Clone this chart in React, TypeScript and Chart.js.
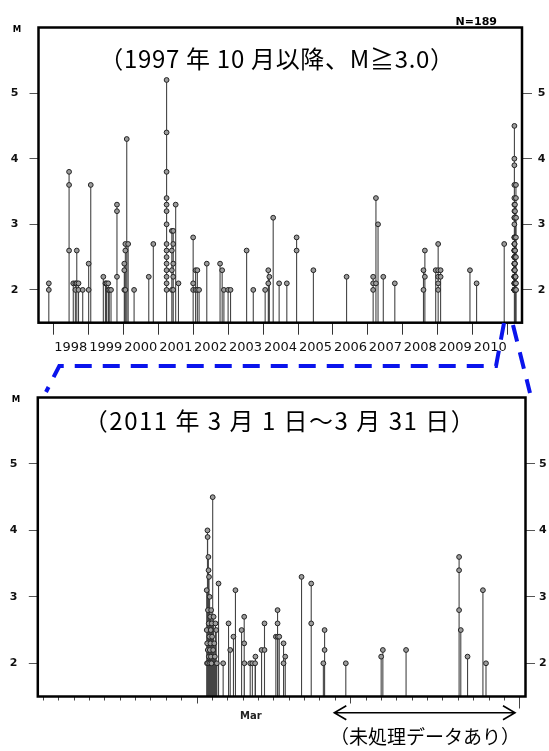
import React, { useEffect, useRef } from 'react';
import { Chart, registerables } from 'chart.js';
Chart.register(...registerables);

// ---------------- data ----------------
const M_MIN = 1.5;
const M_MAX = 6.0;
const magTicks = [2, 3, 4, 5];

const yearTicks = [1998, 1999, 2000, 2001, 2002, 2003, 2004, 2005, 2006, 2007, 2008, 2009, 2010, 2011];
const yearLabels = ['1998', '1999', '2000', '2001', '2002', '2003', '2004', '2005', '2006', '2007', '2008', '2009', '2010'];
const topRange = [1997.575, 2011.409];

// events before 2011 (decimal year, magnitudes of the events at that time)
const topGroupTimes = [
  1997.87, 1998.45, 1998.57, 1998.63, 1998.67, 1998.72, 1998.84, 1999.01, 1999.07, 1999.43,
  1999.49, 1999.52, 1999.57, 1999.60, 1999.65, 1999.82, 2000.03, 2000.06, 2000.10, 2000.14,
  2000.31, 2000.73, 2000.86, 2001.24, 2001.39, 2001.43, 2001.50, 2001.58, 2002.00, 2002.07,
  2002.12, 2002.17, 2002.39, 2002.77, 2002.83, 2002.88, 2003.00, 2003.07, 2003.53, 2003.72,
  2004.06, 2004.15, 2004.18, 2004.29, 2004.46, 2004.68, 2004.96, 2005.44, 2006.39, 2007.15,
  2007.23, 2007.29, 2007.44, 2007.77, 2008.59, 2008.63, 2008.94, 2009.01, 2009.08, 2009.92,
  2010.11, 2010.90,
];
const topGroupMags = [
  [2.1, 2.0], [3.8, 3.6, 2.6], [2.1], [2.0, 2.1], [2.6, 2.1], [2.1, 2.0], [2.0], [2.4, 2.0], [3.6], [2.2],
  [2.1], [2.1], [2.1, 2.0], [2.0], [2.0], [3.3, 3.2, 2.2], [2.4, 2.3, 2.0], [2.7, 2.6, 2.0], [4.3], [2.7],
  [2.0], [2.2], [2.7], [5.2, 4.4, 3.8, 3.4, 3.3, 3.2, 3.0, 2.7, 2.6, 2.5, 2.4, 2.3, 2.2, 2.1, 2.0],
  [2.9, 2.6, 2.3, 2.0], [2.9, 2.7, 2.4, 2.2, 2.0], [3.3], [2.1], [2.8, 2.1, 2.0], [2.3, 2.0],
  [2.3, 2.0], [2.0], [2.4], [2.4], [2.3], [2.0], [2.0], [2.0], [2.6], [2.0],
  [2.0], [2.3, 2.1], [2.2], [3.1], [2.1], [2.1], [2.8, 2.6], [2.3], [2.2], [2.2, 2.1, 2.0],
  [3.4, 2.1], [3.0], [2.2], [2.1], [2.3, 2.0], [2.6, 2.2], [2.3], [2.7, 2.3, 2.2, 2.1, 2.0], [2.3, 2.2], [2.3],
  [2.1], [2.7],
];

// March 2011 events (day of month, 1.0 = Mar 1 00:00)
const marDays = [
  11.63, 11.63, 11.65, 11.66, 11.68, 11.69, 11.70, 11.71, 11.72, 11.74, 11.75, 11.76, 11.77, 11.78,
  11.80, 11.82, 11.83, 11.84, 11.86, 11.87, 11.89, 11.90, 11.92, 11.94, 11.96, 11.98, 12.02, 12.05,
  12.08, 12.12, 12.16, 12.20, 12.25, 12.29,
  12.40, 12.70, 13.05, 13.16, 13.37, 13.50, 13.90, 14.07, 14.07, 14.08, 14.46, 14.60, 14.78, 14.80,
  15.20, 15.39, 15.39, 16.13, 16.24, 16.24, 16.25, 16.35, 16.63, 16.63, 16.74, 17.80, 18.43, 18.43,
  19.22, 19.30, 19.30, 20.68, 22.98, 23.09, 24.60, 28.05, 28.05, 28.05, 28.16, 28.60, 29.60, 29.80,
];
const marMags = [
  3.1, 2.5, 2.0, 2.3, 4.0, 3.9, 2.2, 2.8, 2.0, 3.6, 3.4, 2.6, 2.1, 3.3,
  2.4, 3.0, 2.2, 2.0, 2.7, 2.3, 2.5, 2.1, 2.8, 2.0, 2.6, 2.4, 4.5, 2.2,
  2.7, 2.3, 2.1, 2.6, 2.5, 2.0,
  3.2, 2.0, 2.6, 2.2, 2.4, 3.1, 2.5, 2.7, 2.3, 2.0, 2.0, 2.0, 2.0, 2.1,
  2.2, 2.6, 2.2, 2.4, 2.8, 2.6, 2.4, 2.4, 2.3, 2.0, 2.1, 3.3, 3.2, 2.6,
  2.0, 2.5, 2.2, 2.0, 2.1, 2.2, 2.2, 3.6, 3.4, 2.8, 2.5, 2.1, 3.1, 2.0,
];

const dayTicks = [1, 2, 3, 4, 5, 6, 7, 8, 9, 10, 11, 12, 13, 14, 15, 16, 17, 18, 19, 20, 21, 22, 23, 24, 25, 26, 27, 28, 29, 30, 31, 32];
const majorDayTicks = [11, 21];
const endDayTicks = [32];
const monthLabel = 'Mar';
const monthLabelDay = 14.5;
const marRange = [0.642, 32.37];

const topTitle = '（1997 年 10 月以降、M≧3.0）';
const bottomTitle = '（2011 年 3 月 1 日～3 月 31 日）';
const countLabel = 'N=189';
const noteLabel = '（未処理データあり）';

// ---------------- helpers ----------------
type P = { x: number; y: number | null };

const topPoints: P[] = [
  ...topGroupTimes.flatMap((t, i) => topGroupMags[i].map((m) => ({ x: t, y: m }))),
  ...marDays.map((d, i) => ({ x: 2011 + (31 + 28 + d - 1) / 365, y: marMags[i] })),
];
const marPoints: P[] = marDays.map((d, i) => ({ x: d, y: marMags[i] }));

const stems = (pts: P[]): P[] =>
  pts.flatMap((p) => [{ x: p.x, y: M_MIN }, { x: p.x, y: p.y }, { x: p.x, y: null }]);

const datasets = (pts: P[]) => [
  {
    type: 'scatter',
    data: pts,
    pointRadius: 2.4,
    pointBackgroundColor: '#9c9c9c',
    pointBorderColor: '#222',
    pointBorderWidth: 1,
    showLine: false,
  },
  {
    type: 'line',
    data: stems(pts),
    borderColor: '#444',
    borderWidth: 1.1,
    pointRadius: 0,
    spanGaps: false,
    fill: false,
    tension: 0,
  },
];

const yAxis = (pos: string, width: number, tickLen: number, pad: number) => ({
  type: 'linear',
  position: pos,
  min: M_MIN,
  max: M_MAX,
  afterFit: (s: any) => { s.width = width; },
  afterBuildTicks: (s: any) => { s.ticks = magTicks.map((v) => ({ value: v })); },
  grid: { drawOnChartArea: false, drawTicks: true, tickLength: tickLen, tickColor: '#555', tickWidth: 1 },
  border: { display: false },
  ticks: { padding: pad, color: '#111', font: { family: 'DejaVu Sans', size: 11, weight: 'bold', lineHeight: 1 } },
});

const xAxis = (range: number[], vals: number[], tickLen: number, height: number, extra: any = {}) => ({
  type: 'linear',
  position: 'bottom',
  min: range[0],
  max: range[1],
  offset: false,
  afterFit: (s: any) => { s.height = height; },
  afterBuildTicks: (s: any) => { s.ticks = vals.map((v) => ({ value: v })); },
  grid: { drawOnChartArea: false, drawTicks: true, tickLength: tickLen, tickColor: '#444', tickWidth: 1, offset: false },
  border: { display: false },
  ...extra,
});

type T = { text: string; x: number; y: number; font: string; align: CanvasTextAlign; spacing?: number };

const decoPlugin = (texts: T[], arrow?: { x1: number; x2: number; y: number }) => ({
  id: 'deco',
  afterDatasetsDraw(chart: any) {
    const { ctx, chartArea: a } = chart;
    ctx.save();
    ctx.lineWidth = 2.5;
    ctx.strokeStyle = '#000';
    ctx.strokeRect(a.left, a.top, a.right - a.left, a.bottom - a.top);
    ctx.restore();
  },
  afterDraw(chart: any) {
    const ctx = chart.ctx;
    ctx.save();
    texts.forEach((t) => {
      ctx.font = t.font;
      ctx.fillStyle = '#000';
      ctx.textAlign = t.align;
      ctx.textBaseline = 'alphabetic';
      (ctx as any).letterSpacing = (t.spacing || 0) + 'px';
      ctx.fillText(t.text, t.x, t.y);
    });
    (ctx as any).letterSpacing = '0px';
    if (arrow) {
      const { x1, x2, y } = arrow;
      ctx.strokeStyle = '#000';
      ctx.lineWidth = 1.6;
      ctx.beginPath();
      ctx.moveTo(x1, y); ctx.lineTo(x2, y);
      ctx.moveTo(x1 + 12, y - 7); ctx.lineTo(x1, y); ctx.lineTo(x1 + 12, y + 7);
      ctx.moveTo(x2 - 12, y - 7); ctx.lineTo(x2, y); ctx.lineTo(x2 - 12, y + 7);
      ctx.stroke();
    }
    ctx.restore();
  },
});

const baseOptions = (padding: any, scales: any) => ({
  responsive: false,
  animation: false,
  events: [],
  layout: { padding },
  plugins: { legend: { display: false }, tooltip: { enabled: false } },
  scales,
});

const topTickVals = yearTicks.flatMap((y, i) => (i < yearTicks.length - 1 ? [y, y + 0.5] : [y]));

function topConfig(): any {
  return {
    type: 'scatter',
    data: { datasets: datasets(topPoints) },
    options: baseOptions({ top: 27.5, bottom: 7.3, left: 0, right: 0 }, {
      x: xAxis(topRange, topTickVals, 12, 40, {
        ticks: {
          autoSkip: false, maxRotation: 0, minRotation: 0, padding: 5.5, color: '#111',
          font: { family: 'DejaVu Sans', size: 13 },
          callback: (v: any) => {
            const n = Number(v);
            return n % 1 !== 0 ? yearLabels[Math.floor(n) - yearTicks[0]] || '' : '';
          },
        },
        grid: {
          drawOnChartArea: false, drawTicks: true, tickLength: 12, tickWidth: 1, offset: false,
          tickColor: (c: any) => (c.tick && c.tick.value % 1 !== 0 ? 'rgba(0,0,0,0)' : '#333'),
        },
      }),
      y: yAxis('left', 38.5, 9, 11.2),
      y2: yAxis('right', 27, 10, 5.7),
    }),
    plugins: [decoPlugin([
      { text: topTitle, x: 277, y: 68, font: '24px "Noto Sans CJK JP"', align: 'center', spacing: 0.7 },
      { text: countLabel, x: 455.6, y: 24.5, font: 'bold 11px "DejaVu Sans"', align: 'left' },
      { text: 'M', x: 12.7, y: 32, font: 'bold 8.5px "DejaVu Sans"', align: 'left' },
    ])],
  };
}

const majorVals = [...majorDayTicks, monthLabelDay].sort((a, b) => a - b);

function bottomConfig(): any {
  return {
    type: 'scatter',
    data: { datasets: datasets(marPoints) },
    options: baseOptions({ top: 17.5, bottom: 14.5, left: 0, right: 0 }, {
      x: xAxis(marRange, dayTicks, 4, 0, { ticks: { display: false }, weight: 0 }),
      xE: xAxis(marRange, endDayTicks, 12, 0, { ticks: { display: false }, weight: 0 }),
      xM: xAxis(marRange, majorVals, 7, 40, {
        weight: 5,
        ticks: {
          autoSkip: false, maxRotation: 0, minRotation: 0, padding: 7, color: '#222',
          font: { family: 'DejaVu Sans', size: 10, weight: 'bold' },
          callback: (v: any) => (Number(v) === monthLabelDay ? monthLabel : ''),
        },
        grid: {
          drawOnChartArea: false, drawTicks: true, tickLength: 7, tickWidth: 1, offset: false,
          tickColor: (c: any) => (c.tick && c.tick.value === monthLabelDay ? 'rgba(0,0,0,0)' : '#444'),
        },
      }),
      y: yAxis('left', 37.8, 9, 11.3),
      y2: yAxis('right', 23.5, 9.5, 4),
    }),
    plugins: [decoPlugin([
      { text: bottomTitle, x: 280, y: 50, font: '24px "Noto Sans CJK JP"', align: 'center', spacing: 1.5 },
      { text: 'M', x: 11.7, y: 22, font: 'bold 8.5px "DejaVu Sans"', align: 'left' },
      { text: noteLabel, x: 425, y: 364, font: '19px "Noto Sans CJK JP"', align: 'center' },
    ], { x1: 334.3, x2: 515, y: 332.7 })],
  };
}

export default function App() {
  const topRef = useRef<HTMLCanvasElement>(null);
  const botRef = useRef<HTMLCanvasElement>(null);
  useEffect(() => {
    const c1 = new Chart(topRef.current as HTMLCanvasElement, topConfig());
    const c2 = new Chart(botRef.current as HTMLCanvasElement, bottomConfig());
    return () => { c1.destroy(); c2.destroy(); };
  }, []);
  return (
    <div style={{ position: 'absolute', left: 0, top: 0, width: 549, height: 751, background: '#fff', overflow: 'hidden' }}>
      <canvas ref={topRef} width={549} height={370} style={{ position: 'absolute', left: 0, top: 0 }} />
      <canvas ref={botRef} width={549} height={371} style={{ position: 'absolute', left: 0, top: 380 }} />
      <svg width={549} height={751} style={{ position: 'absolute', left: 0, top: 0, pointerEvents: 'none' }}>
        <polyline points="504,323 496,366 59.3,366 46,392" fill="none" stroke="#0a14ec" strokeWidth={4} strokeDasharray="17 11" />
        <line x1={513} y1={325} x2={530} y2={393} stroke="#0a14ec" strokeWidth={4} strokeDasharray="17 11" />
      </svg>
    </div>
  );
}
